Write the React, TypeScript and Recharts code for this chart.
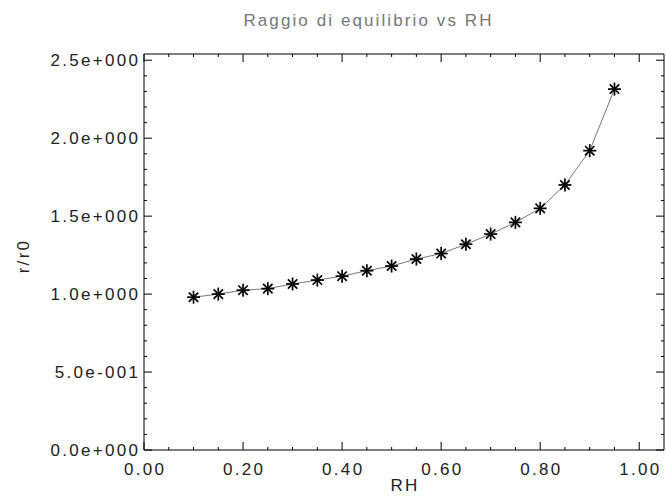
import { LineChart, Line, XAxis, YAxis } from "recharts";

// relative humidity values (x) and equilibrium radius ratio r/r0 (y)
const rh = [0.1, 0.15, 0.2, 0.25, 0.3, 0.35, 0.4, 0.45, 0.5, 0.55, 0.6, 0.65, 0.7, 0.75, 0.8, 0.85, 0.9, 0.95];
const ratio = [0.98, 1.0, 1.025, 1.035, 1.065, 1.09, 1.115, 1.15, 1.18, 1.225, 1.26, 1.32, 1.385, 1.46, 1.55, 1.7, 1.92, 2.315];

const xTicks = [0, 0.05, 0.1, 0.15, 0.2, 0.25, 0.3, 0.35, 0.4, 0.45, 0.5, 0.55, 0.6, 0.65, 0.7, 0.75, 0.8, 0.85, 0.9, 0.95, 1.0];
const yTicks = [0, 0.1, 0.2, 0.3, 0.4, 0.5, 0.6, 0.7, 0.8, 0.9, 1.0, 1.1, 1.2, 1.3, 1.4, 1.5, 1.6, 1.7, 1.8, 1.9, 2.0, 2.1, 2.2, 2.3, 2.4, 2.5];

const data = rh.map((x, i) => ({ rh: x, r: ratio[i] }));

const FONT = "'Liberation Sans', Arial, sans-serif";
const TICK_COLOR = "#222";
const FS = 17;
const LS = 2.3;

const isMajor = (v: number, step: number) =>
  Math.abs(v / step - Math.round(v / step)) < 1e-6;

// IDL style exponent label, e.g. 2.5e+000, 5.0e-001
const expLabel = (v: number) => {
  if (Math.abs(v) < 1e-9) return "0.0e+000";
  const e = Math.floor(Math.log10(v) + 1e-9);
  const m = v / Math.pow(10, e);
  return `${m.toFixed(1)}e${e < 0 ? "-" : "+"}${String(Math.abs(e)).padStart(3, "0")}`;
};

const BottomTick = (props: any) => {
  const { x, y, payload } = props;
  const major = isMajor(payload.value, 0.2);
  return (
    <g>
      <line x1={x} x2={x} y1={y} y2={y - (major ? 8 : 3)} stroke="#000" />
      {major && (
        <text x={x + LS / 2} y={475} textAnchor="middle" fill={TICK_COLOR} fontSize={FS} fontFamily={FONT} letterSpacing={LS}>
          {payload.value.toFixed(2)}
        </text>
      )}
    </g>
  );
};

const TopTick = (props: any) => {
  const { x, y, payload } = props;
  const major = isMajor(payload.value, 0.2);
  return <line x1={x} x2={x} y1={y} y2={y + (major ? 8 : 3)} stroke="#000" />;
};

const LeftTick = (props: any) => {
  const { x, y, payload } = props;
  const major = isMajor(payload.value, 0.5);
  return (
    <g>
      <line x1={x} x2={x + (major ? 8 : 3)} y1={y} y2={y} stroke="#000" />
      {major && (
        <text x={x - 6 + LS} y={y + 6} textAnchor="end" fill={TICK_COLOR} fontSize={FS} fontFamily={FONT} letterSpacing={LS}>
          {expLabel(payload.value)}
        </text>
      )}
    </g>
  );
};

const RightTick = (props: any) => {
  const { x, y, payload } = props;
  const major = isMajor(payload.value, 0.5);
  return <line x1={x} x2={x - (major ? 8 : 3)} y1={y} y2={y} stroke="#000" />;
};

const Asterisk = (props: any) => {
  const { cx, cy } = props;
  const r = 6.5;
  const d = r * 0.72;
  return (
    <g stroke="#000" strokeWidth={1.7}>
      <line x1={cx - r} x2={cx + r} y1={cy} y2={cy} />
      <line x1={cx} x2={cx} y1={cy - r} y2={cy + r} />
      <line x1={cx - d} x2={cx + d} y1={cy - d} y2={cy + d} />
      <line x1={cx - d} x2={cx + d} y1={cy + d} y2={cy - d} />
    </g>
  );
};

export default function App() {
  return (
    <div style={{ position: "absolute", left: 0, top: 0, width: 666, height: 498, background: "#fff" }}>
      <LineChart width={666} height={498} data={data} margin={{ top: 53, right: 1, left: 0, bottom: 0 }}>
        <XAxis
          dataKey="rh"
          type="number"
          domain={[0, 1.05]}
          ticks={xTicks}
          interval={0}
          height={48}
          tickSize={0}
          tickMargin={0}
          tickLine={false}
          axisLine={{ stroke: "#000" }}
          tick={<BottomTick />}
        />
        <XAxis
          xAxisId="top"
          orientation="top"
          dataKey="rh"
          type="number"
          domain={[0, 1.05]}
          ticks={xTicks}
          interval={0}
          height={1}
          tickSize={0}
          tickMargin={0}
          tickLine={false}
          axisLine={{ stroke: "#000" }}
          tick={<TopTick />}
        />
        <YAxis
          type="number"
          domain={[0, 2.54]}
          ticks={yTicks}
          interval={0}
          width={144}
          tickSize={0}
          tickMargin={0}
          tickLine={false}
          axisLine={{ stroke: "#000" }}
          tick={<LeftTick />}
        />
        <YAxis
          yAxisId="right"
          orientation="right"
          type="number"
          domain={[0, 2.54]}
          ticks={yTicks}
          interval={0}
          width={1}
          tickSize={0}
          tickMargin={0}
          tickLine={false}
          axisLine={{ stroke: "#000" }}
          tick={<RightTick />}
        />
        {/* invisible series so the mirrored frame axes are in use */}
        <Line
          xAxisId="top"
          yAxisId="right"
          dataKey="r"
          stroke="none"
          dot={false}
          activeDot={false}
          isAnimationActive={false}
        />
        <Line
          dataKey="r"
          stroke="#777"
          strokeWidth={1}
          dot={(p: any) => <Asterisk key={p.index} {...p} />}
          activeDot={false}
          isAnimationActive={false}
        />
      </LineChart>
      <div style={{ position: "absolute", left: 0, width: 737, top: 11, lineHeight: "20px", textAlign: "center", fontFamily: FONT, fontSize: 17, letterSpacing: 2.1, color: "#777" }}>
        Raggio di equilibrio vs RH
      </div>
      <div style={{ position: "absolute", left: 144, width: 522, top: 476, lineHeight: "20px", textAlign: "center", fontFamily: FONT, fontSize: FS, letterSpacing: LS, color: TICK_COLOR }}>
        RH
      </div>
      <div
        style={{
          position: "absolute",
          left: 24,
          top: 256,
          transform: "translate(-50%, -50%) rotate(-90deg)",
          fontFamily: FONT,
          fontSize: FS,
          letterSpacing: LS,
          lineHeight: "20px",
          color: TICK_COLOR,
          whiteSpace: "nowrap",
        }}
      >
        r/r0
      </div>
    </div>
  );
}
